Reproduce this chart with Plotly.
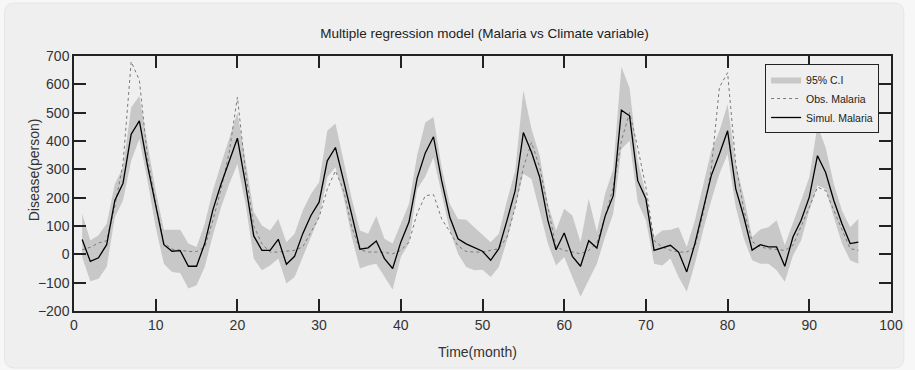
import plotly.graph_objects as go

months = list(range(1, 97))

simul = [52, -25, -12, 34, 190, 251, 424, 471, 313, 172,
         34, 11, 13, -42, -42, 38, 157, 248, 330, 410,
         248, 65, 14, 14, 53, -35, -7, 73, 137, 184,
         330, 377, 260, 137, 18, 23, 47, -15, -50, 43,
         114, 268, 358, 415, 260, 131, 55, 37, 23, 11,
         -21, 20, 120, 225, 430, 360, 272, 120, 16, 75,
         -7, -42, 48, 22, 134, 207, 509, 489, 260, 196,
         14, 22, 32, 8, -62, 38, 161, 278, 354, 436,
         231, 131, 15, 34, 26, 26, -42, 61, 120, 202,
         348, 289, 190, 108, 38, 43]

observed = [16, 25, 40, 48, 170, 320, 680, 615, 340, 180,
            40, 18, 15, 10, 10, 25, 120, 230, 360, 555,
            290, 100, 37, 8, 8, 10, 14, 26, 78, 131,
            230, 295, 225, 96, 16, 8, 8, 7, 2, 14,
            43, 145, 207, 211, 125, 80, 30, 10, 8, 8,
            14, 20, 61, 166, 307, 395, 307, 166, 26, 14,
            8, 2, 14, 40, 131, 237, 401, 500, 377, 237,
            49, 26, 14, 8, 8, 26, 143, 300, 590, 641,
            319, 155, 45, 26, 20, 16, 14, 32, 96, 166,
            237, 225, 155, 84, 20, 14]

ci_upper = [143, 49, 67, 108, 248, 307, 518, 559, 389, 225,
            87, 87, 87, 38, 26, 108, 225, 319, 412, 500,
            330, 150, 102, 84, 125, 43, 73, 155, 213, 254,
            436, 462, 330, 196, 84, 73, 135, 55, 38, 108,
            178, 350, 465, 485, 307, 178, 125, 122, 96, 69,
            43, 73, 190, 295, 579, 442, 348, 178, 84, 161,
            137, 43, 196, 79, 213, 301, 661, 588, 330, 213,
            61, 84, 87, 96, 26, 120, 248, 366, 436, 530,
            319, 202, 61, 88, 96, 120, 32, 108, 190, 272,
            454, 377, 248, 155, 96, 125]

ci_lower = [-10, -95, -86, -45, 131, 190, 330, 407, 260, 96,
            -33, -62, -66, -121, -109, -45, 67, 166, 248, 319,
            178, -15, -56, -39, -15, -103, -80, -9, 61, 131,
            272, 307, 202, 61, -50, -39, -33, -80, -124, -9,
            38, 230, 275, 342, 213, 84, 2, -45, -56, -54,
            -80, -45, 49, 166, 284, 266, 155, 38, -39, -9,
            -80, -150, -91, -33, 61, 143, 371, 401, 184, 120,
            -33, -39, -15, -80, -132, -33, 84, 190, 284, 354,
            166, 55, -21, -33, -33, -56, -97, -4, 49, 155,
            243, 231, 131, 38, -21, -33]

x_ticks = [0, 10, 20, 30, 40, 50, 60, 70, 80, 90, 100]
y_ticks = [-200, -100, 0, 100, 200, 300, 400, 500, 600, 700]

FONT = "Liberation Sans, Arial, sans-serif"
BG = "#efefef"

fig = go.Figure()
fig.add_trace(go.Scatter(x=months, y=ci_lower, mode="lines", line=dict(width=0, color="#c8c8c8"),
                         showlegend=False, hoverinfo="skip"))
fig.add_trace(go.Scatter(x=months, y=ci_upper, mode="lines", line=dict(width=0, color="#c8c8c8"),
                         fill="tonexty", fillcolor="#c8c8c8", name="95% C.I"))
fig.add_trace(go.Scatter(x=months, y=observed, mode="lines",
                         line=dict(color="#7a7a7a", width=1, dash="dot"), name="Obs. Malaria"))
fig.add_trace(go.Scatter(x=months, y=simul, mode="lines",
                         line=dict(color="#000000", width=1.3), name="Simul. Malaria"))

# rounded background panel
L, R, T, B = 74, 898, 56, 311
W, H = R - L, B - T
def px(v):
    return (v - L) / W
def py(v):
    return 1 - (v - T) / H
x0, x1, y0, y1 = px(4), px(911), py(368), py(3)
rx, ry = 10 / W, 10 / H
path = (f"M {x0+rx},{y1} L {x1-rx},{y1} Q {x1},{y1} {x1},{y1-ry} "
        f"L {x1},{y0+ry} Q {x1},{y0} {x1-rx},{y0} L {x0+rx},{y0} "
        f"Q {x0},{y0} {x0},{y0+ry} L {x0},{y1-ry} Q {x0},{y1} {x0+rx},{y1} Z")
fig.add_shape(type="path", path=path, xref="paper", yref="paper",
              fillcolor=BG, line=dict(color="#e6e6e6", width=1), layer="below")

axis_common = dict(showgrid=False, zeroline=False, showline=True, linecolor="#222222", linewidth=1.5,
                   mirror="ticks", ticks="inside", ticklen=12, tickwidth=1.5, tickcolor="#222222",
                   tickfont=dict(family=FONT, size=14, color="#333333"))

fig.update_layout(
    width=915, height=370,
    margin=dict(l=L, r=915 - R, t=T, b=370 - B),
    paper_bgcolor="#f7f7f7", plot_bgcolor="rgba(0,0,0,0)",
    font=dict(family=FONT, color="#333333"),
    title=dict(text="Multiple regression model (Malaria vs Climate variable)",
               font=dict(family=FONT, size=13.5, color="#222222"),
               x=px(488), xanchor="center", xref="paper", y=1 - 33 / 370, yanchor="middle"),
    xaxis=dict(range=[0, 100], tickvals=x_ticks, ticktext=[str(v) for v in x_ticks], **axis_common),
    yaxis=dict(range=[-200, 700], tickvals=y_ticks, ticktext=[str(v).replace("-", "\u2212") for v in y_ticks],
               **axis_common),
    legend=dict(x=px(886), xanchor="right", y=py(64), yanchor="top",
                bgcolor=BG, bordercolor="#222222", borderwidth=1, traceorder="normal",
                font=dict(family=FONT, size=10.5, color="#222222"),
                tracegroupgap=0, itemwidth=30),
    showlegend=True,
    annotations=[
        dict(text="Time(month)", xref="paper", yref="paper", x=px(481), y=py(352),
             xanchor="center", yanchor="middle", showarrow=False,
             font=dict(family=FONT, size=14, color="#333333")),
        dict(text="Disease(person)", xref="paper", yref="paper", x=px(34), y=py(170),
             xanchor="center", yanchor="middle", showarrow=False, textangle=-90,
             font=dict(family=FONT, size=14, color="#333333")),
    ],
)

fig.write_html("out.html")
